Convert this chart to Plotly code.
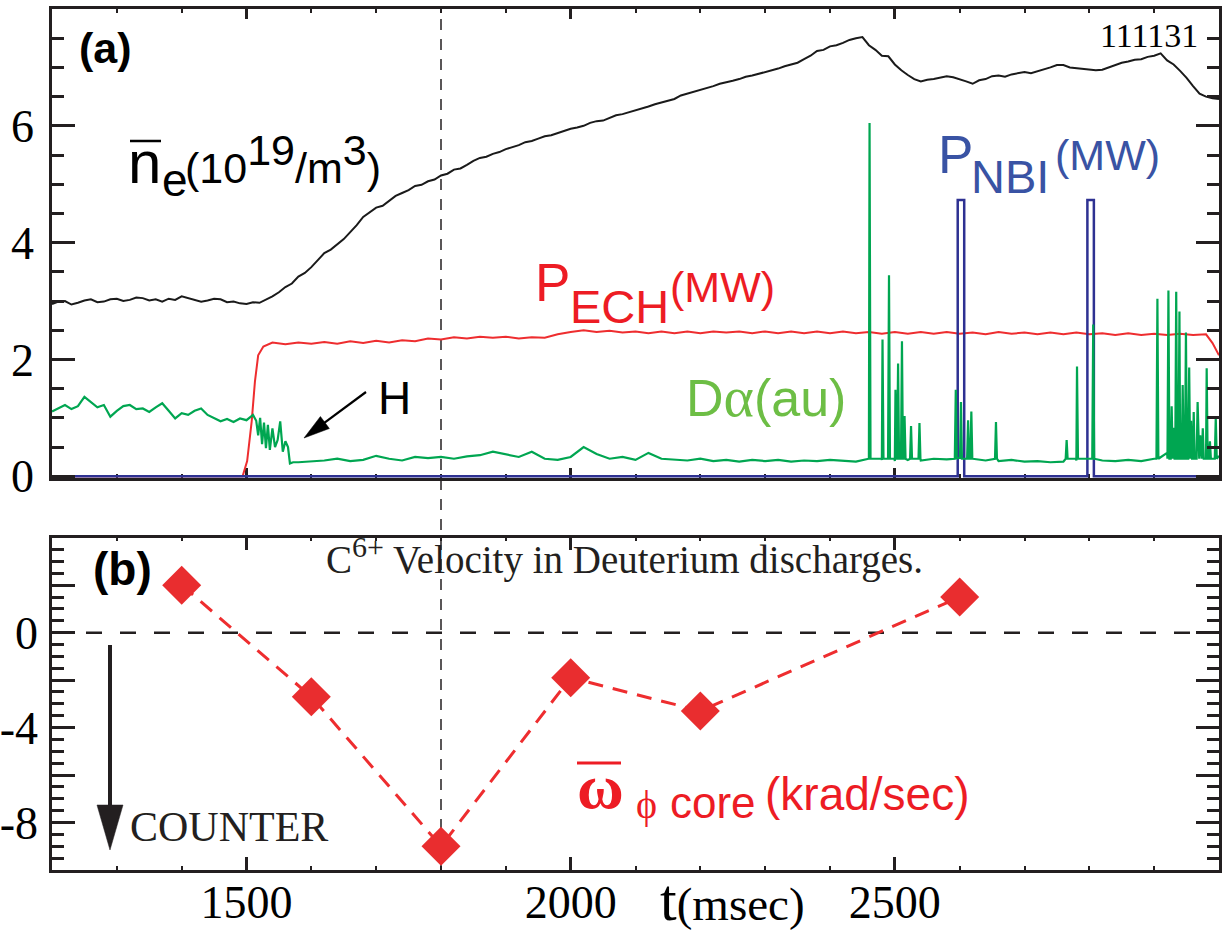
import math
import plotly.graph_objects as go

# ---------------- data ----------------
# (a) line-averaged density n_e (10^19/m^3), 10 ms grid 1200..3000
ne_t = list(range(1200, 3001, 10))
ne_v = [2.95, 2.99, 3.00, 2.94, 2.97, 3.01, 3.03, 2.98, 2.99, 3.03,
        3.04, 3.00, 3.02, 3.06, 3.05, 3.01, 3.03, 2.99, 3.04, 3.02,
        3.08, 3.05, 3.02, 2.99, 3.01, 3.04, 3.03, 2.98, 2.99, 2.96,
        2.95, 2.98, 2.97, 3.02, 3.08, 3.15, 3.24, 3.30, 3.42, 3.48,
        3.58, 3.70, 3.82, 3.88, 3.97, 4.06, 4.18, 4.30, 4.44, 4.52,
        4.60, 4.63, 4.72, 4.80, 4.85, 4.90, 4.97, 4.99, 5.05, 5.08,
        5.15, 5.18, 5.25, 5.27, 5.33, 5.40, 5.45, 5.47, 5.52, 5.55,
        5.60, 5.63, 5.67, 5.72, 5.74, 5.78, 5.82, 5.84, 5.88, 5.92,
        5.95, 5.97, 6.00, 6.05, 6.08, 6.09, 6.13, 6.18, 6.20, 6.23,
        6.27, 6.29, 6.33, 6.37, 6.40, 6.42, 6.46, 6.52, 6.55, 6.58,
        6.62, 6.64, 6.68, 6.72, 6.74, 6.77, 6.80, 6.84, 6.86, 6.89,
        6.92, 6.94, 6.98, 7.02, 7.05, 7.08, 7.14, 7.20, 7.28, 7.30,
        7.36, 7.38, 7.42, 7.47, 7.50, 7.52, 7.38, 7.30, 7.20, 7.19,
        7.05, 6.95, 6.87, 6.80, 6.76, 6.79, 6.80, 6.83, 6.85, 6.83,
        6.80, 6.76, 6.72, 6.78, 6.80, 6.85, 6.86, 6.84, 6.88, 6.90,
        6.92, 6.90, 6.93, 6.97, 7.00, 7.04, 7.04, 7.00, 6.99, 6.97,
        6.97, 6.95, 6.96, 7.00, 7.03, 7.08, 7.10, 7.13, 7.14, 7.18,
        7.20, 7.24, 7.12, 7.05, 6.94, 6.82, 6.68, 6.55, 6.50, 6.47,
        6.46]

# P_ECH (MW)
ech_t_head = [1200, 1494, 1501, 1508, 1513, 1518, 1526, 1535]
ech_v_head = [0.0, 0.0, 0.26, 0.94, 1.62, 2.07, 2.22, 2.27]
ech_t_body = list(range(1540, 2981, 20))
ech_v_body = [2.29, 2.26, 2.29, 2.27,
              2.30, 2.27, 2.31, 2.28, 2.32,
              2.29, 2.33, 2.31, 2.36, 2.34,
              2.38, 2.36, 2.39, 2.37, 2.39,
              2.36, 2.38, 2.37, 2.43, 2.47,
              2.50, 2.47, 2.49, 2.46, 2.48,
              2.45, 2.48, 2.45, 2.48, 2.45,
              2.48, 2.46, 2.48, 2.45, 2.48,
              2.45, 2.48, 2.45, 2.48, 2.45,
              2.48, 2.45, 2.47, 2.44, 2.47,
              2.44, 2.47, 2.44, 2.47, 2.44,
              2.46, 2.43, 2.47, 2.44, 2.46,
              2.43, 2.46, 2.43, 2.46, 2.43,
              2.45, 2.42, 2.45, 2.42, 2.44,
              2.42, 2.44, 2.42, 2.43]
ech_t_tail = [2990, 3000]
ech_v_tail = [2.28, 2.07]

# P_NBI (MW): two short blips
nbi_t = [1200, 2597, 2597, 2607, 2607, 2797, 2797, 2807, 2807, 3000]
nbi_v = [0, 0, 4.73, 4.73, 0, 0, 4.73, 4.73, 0, 0]

# D_alpha (au)
da_pre_t = list(range(1200, 1511, 10))
da_pre_v = [1.11, 1.16, 1.22, 1.15, 1.20, 1.36, 1.27, 1.18, 1.22, 1.02,
            1.12, 1.20, 1.22, 1.15, 1.16, 1.10, 1.18, 1.25, 1.12, 0.99,
            1.08, 1.05, 1.12, 1.16, 1.05, 1.00, 0.94, 0.98, 0.93, 0.99,
            0.96, 1.05]
da_tr_t = [1515, 1518, 1521, 1524, 1527, 1530, 1533, 1536, 1540, 1544,
           1548, 1552, 1556, 1560, 1564, 1567, 1572]
da_tr_v = [0.95, 0.70, 1.00, 0.55, 0.92, 0.48, 0.88, 0.45, 0.82, 0.50,
           0.62, 0.94, 0.42, 0.60, 0.50, 0.22, 0.24]
da_base_t = list(range(1580, 3001, 20))
da_base_v = [0.24, 0.25, 0.27, 0.30, 0.26, 0.28, 0.35, 0.30, 0.27, 0.33,
             0.31, 0.33, 0.30, 0.34, 0.36, 0.42, 0.38, 0.33, 0.42, 0.30,
             0.28, 0.33, 0.50, 0.38, 0.30, 0.33, 0.28, 0.40, 0.30, 0.28,
             0.27, 0.30, 0.26, 0.28, 0.25, 0.28, 0.26, 0.28, 0.25, 0.27,
             0.26, 0.28, 0.26, 0.25, 0.30, 0.28, 0.26, 0.28, 0.27, 0.30,
             0.29, 0.33, 0.30, 0.27, 0.26, 0.28, 0.25, 0.26, 0.24, 0.25,
             0.27, 0.30, 0.27, 0.26, 0.28, 0.26, 0.30, 0.40, 0.45, 0.40,
             0.30, 0.35]
spk_t = [2461, 2481, 2491, 2501, 2505, 2511, 2515, 2525, 2538, 2594,
         2602, 2613, 2618, 2656, 2765, 2781, 2806, 2905, 2922, 2927,
         2930, 2934, 2939, 2944, 2949, 2954, 2957, 2961, 2967, 2971,
         2975, 2981, 2986, 2995]
spk_v = [6.05, 2.34, 3.44, 1.48, 1.93, 2.31, 1.03, 0.86, 0.91, 1.48,
         1.27, 0.96, 1.11, 0.93, 0.62, 1.88, 2.60, 3.04, 3.18, 1.20,
         0.83, 3.16, 2.82, 1.56, 2.46, 1.86, 0.95, 1.10, 1.27, 0.70,
         0.82, 1.85, 0.60, 1.00]
spk_foot = 0.30
spk_halfwidth = 1.5

# (b) core toroidal rotation (krad/sec)
om_t = [1400, 1600, 1800, 2000, 2200, 2600]
om_v = [2.0, -2.7, -9.0, -1.9, -3.3, 1.5]

t_mark = 1800

assert len(ne_t) == len(ne_v)
assert len(ech_t_body) == len(ech_v_body)
assert len(da_pre_t) == len(da_pre_v)
assert len(da_base_t) == len(da_base_v)
assert len(spk_t) == len(spk_v)

ech_t = ech_t_head + ech_t_body + ech_t_tail
ech_v = ech_v_head + ech_v_body + ech_v_tail

pts = list(zip(da_pre_t, da_pre_v)) + list(zip(da_tr_t, da_tr_v)) + list(zip(da_base_t, da_base_v))
for ts, pk in zip(spk_t, spk_v):
    pts += [(ts - spk_halfwidth, spk_foot), (ts, pk), (ts + spk_halfwidth, spk_foot)]
pts.sort(key=lambda p: p[0])
da_t = [p[0] for p in pts]
da_v = [p[1] for p in pts]

# ---------------- styling ----------------
SANS = "Liberation Sans"
SERIF = "Liberation Serif"
DESC = {SANS: 0.212, SERIF: 0.216}
INK = "#231F20"
RED_LINE = "#EE2D2F"
RED_TXT = "#ED1C24"
GREEN_LINE = "#00A651"
GREEN_TXT = "#6DBE45"
BLUE_LINE = "#2E3192"
BLUE_TXT = "#3953A4"

L, R, T, B = 52, 1219, 9, 870
W, H = 1228, 932


def P(x, y):
    return ((x - L) / (R - L), (B - y) / (B - T))


annotations = []
shapes = []


def label(x, base, text, size, color, family, anchor="left"):
    px_, py_ = P(x, base + DESC[family] * size)
    annotations.append(dict(xref="paper", yref="paper", x=px_, y=py_,
                            xanchor=anchor, yanchor="bottom", text=text,
                            showarrow=False, borderpad=0, borderwidth=0,
                            font=dict(family=family, size=size, color=color)))


def hline(x0, x1, y, width, color):
    a, b = P(x0, y)
    c, d = P(x1, y)
    shapes.append(dict(type="line", xref="paper", yref="paper", x0=a, y0=b, x1=c, y1=d,
                       line=dict(color=color, width=width)))


def arrow(x0, y0, x1, y1, width, hl, hw, color):
    dx, dy = x1 - x0, y1 - y0
    ln = math.hypot(dx, dy)
    ux, uy = dx / ln, dy / ln
    bx, by = x1 - ux * hl, y1 - uy * hl
    a, b = P(x0, y0)
    c, d = P(bx + ux * 2, by + uy * 2)
    shapes.append(dict(type="line", xref="paper", yref="paper", x0=a, y0=b, x1=c, y1=d,
                       line=dict(color=color, width=width)))
    nx, ny = -uy, ux
    tri = [(x1, y1), (bx + nx * hw / 2, by + ny * hw / 2), (bx - nx * hw / 2, by - ny * hw / 2)]
    path = "M " + " L ".join("%.5f %.5f" % P(*q) for q in tri) + " Z"
    shapes.append(dict(type="path", xref="paper", yref="paper", path=path,
                       fillcolor=color, line=dict(color=color, width=0.5)))


fig = go.Figure()
fig.add_trace(go.Scatter(x=ech_t, y=ech_v, mode="lines", line=dict(color=RED_LINE, width=2),
                         xaxis="x", yaxis="y"))
fig.add_trace(go.Scatter(x=nbi_t, y=nbi_v, mode="lines", line=dict(color=BLUE_LINE, width=2.5),
                         xaxis="x", yaxis="y"))
fig.add_trace(go.Scatter(x=da_t, y=da_v, mode="lines", line=dict(color=GREEN_LINE, width=2.2),
                         xaxis="x", yaxis="y"))
fig.add_trace(go.Scatter(x=ne_t, y=ne_v, mode="lines", line=dict(color="#1a1a1a", width=2),
                         xaxis="x", yaxis="y"))
fig.add_trace(go.Scatter(x=om_t, y=om_v, mode="lines+markers",
                         line=dict(color=RED_LINE, width=3, dash="15px,10px"),
                         marker=dict(symbol="diamond", size=30, color="#E92D2F", line=dict(width=0)),
                         xaxis="x2", yaxis="y2"))

# reference lines
shapes.append(dict(type="line", xref="x", yref="paper", x0=t_mark, x1=t_mark, y0=0, y1=1,
                   line=dict(color=INK, width=1.5, dash="11px,9px"), layer="below"))
shapes.append(dict(type="line", xref="x2 domain", yref="y2", x0=0, x1=1, y0=0, y1=0,
                   line=dict(color=INK, width=2.5, dash="16px,18px"), layer="below"))

# texts (a)
label(79, 63, "<b>(a)</b>", 43, "black", SANS)
label(1198, 47, "111131", 34, "black", SERIF, anchor="right")
label(128, 183, "n", 60, "black", SANS)
hline(130, 161, 141, 2.5, "black")
label(162, 196, "e", 46, "black", SANS)
label(185, 183, "(10<sup><span style='font-size:43px'>19</span></sup>/m"
                "<sup><span style='font-size:43px'>3</span></sup>)", 43, "black", SANS)
label(535, 301, "P", 53, RED_TXT, SANS)
label(570, 323, "ECH", 47, RED_TXT, SANS)
label(670, 302, "(MW)", 43, RED_TXT, SANS)
label(938, 173, "P", 53, BLUE_TXT, SANS)
label(971, 193, "NBI", 47, BLUE_TXT, SANS)
label(1055, 170, "(MW)", 43, BLUE_TXT, SANS)
label(686, 418, "D<span style='font-family:Liberation Serif;font-size:58px'>α</span>(au)", 52,
      GREEN_TXT, SANS)
label(378, 414, "H", 46, "black", SANS)
arrow(366, 392, 304, 438, 2.2, 26, 15, "black")

# texts (b)
label(93, 585, "<b>(b)</b>", 46, "black", SANS)
label(326, 574, "C<sup><span style='font-size:30px'>6+</span></sup> Velocity in Deuterium discharges.",
      39, INK, SERIF)
label(130, 841, "COUNTER", 42, INK, SERIF)
arrow(110, 645, 110, 850, 4, 45, 26, INK)
label(577, 808, "<b>ω</b>", 64, RED_TXT, SERIF)
hline(577, 621, 763, 3, RED_TXT)
label(636, 818, "ϕ", 40, RED_TXT, SERIF)
label(670, 818, "core", 44, RED_TXT, SANS)
label(765, 810, "(krad/sec)", 46, RED_TXT, SANS)
label(660, 923, "<span style='font-size:60px'>t</span>(msec)", 47, "black", SERIF)

tickfont = dict(family=SERIF, size=46, color="black")
axis_common = dict(showline=True, linewidth=2.5, linecolor=INK, mirror="ticks",
                   ticks="inside", tickcolor=INK, tickwidth=2.5, showgrid=False,
                   zeroline=False, tickfont=tickfont, automargin=False)

fig.update_layout(
    width=W, height=H,
    margin=dict(l=L, r=W - R, t=T, b=H - B, autoexpand=False),
    paper_bgcolor="white", plot_bgcolor="rgba(0,0,0,0)",
    showlegend=False,
    xaxis=dict(domain=[0, 1], anchor="y", range=[1200, 3000], tickvals=[1500, 2000, 2500],
               ticklen=10, showticklabels=False, layer="below traces",
               minor=dict(dtick=100, tick0=1200, ticks="inside", ticklen=4, tickwidth=2, tickcolor=INK),
               **axis_common),
    yaxis=dict(domain=[(B - 478) / (B - T), 1], anchor="x", range=[-0.03, 8],
               tickvals=[0, 2, 4, 6, 8], ticktext=["0", "2", "4", "6", ""],
               ticklen=23, ticklabelstandoff=6,
               minor=dict(dtick=0.5, tick0=0, ticks="inside", ticklen=12, tickwidth=2.5, tickcolor=INK),
               **axis_common),
    xaxis2=dict(domain=[0, 1], anchor="y2", range=[1200, 3000], tickvals=[1500, 2000, 2500],
                ticktext=["1500", "2000", "2500"], ticklen=13, ticklabelstandoff=-10,
                minor=dict(dtick=100, tick0=1200, ticks="inside", ticklen=4, tickwidth=2, tickcolor=INK),
                **axis_common),
    yaxis2=dict(domain=[0, (B - 537.7) / (B - T)], anchor="x2", range=[-10, 4],
                tickvals=[-10, -8, -6, -4, -2, 0, 2, 4],
                ticktext=["", "-8", "", "-4", "", "0", "", ""],
                ticklen=23, ticklabelstandoff=2,
                minor=dict(dtick=0.5, tick0=0, ticks="inside", ticklen=12, tickwidth=2.5, tickcolor=INK),
                **axis_common),
    annotations=annotations,
    shapes=shapes,
)

fig.write_html("out.html")
